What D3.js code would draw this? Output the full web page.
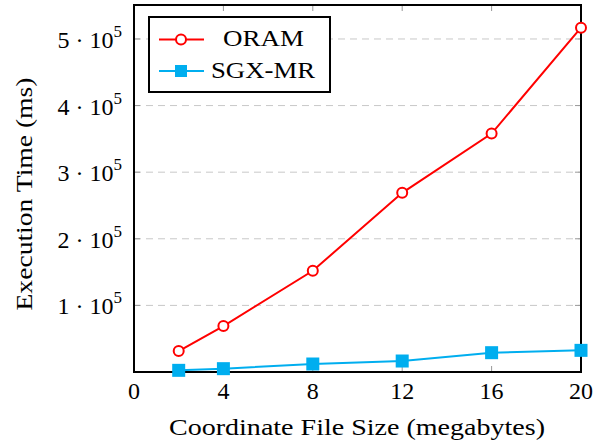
<!DOCTYPE html>
<html>
<head>
<meta charset="utf-8">
<script src="https://cdn.jsdelivr.net/npm/d3@7"></script>
<style>
  body { margin: 0; background: #fff; }
  text { font-family: "Liberation Serif", "DejaVu Serif", serif; fill: #000; }
</style>
</head>
<body>
<svg id="chart"></svg>
<script>
// 数据
const sizes = [2, 4, 8, 12, 16, 20];
const oramTimes = [31500, 69000, 152000, 269000, 358000, 517000];
const sgxTimes = [2500, 5000, 12000, 16500, 29000, 32500];
const xTicks = [0, 4, 8, 12, 16, 20];
const yTicks = [100000, 200000, 300000, 400000, 500000];

const width = 600, height = 445;
const margin = { left: 134, right: 19, top: 5, bottom: 73 };
const innerW = width - margin.left - margin.right;
const innerH = height - margin.top - margin.bottom;
const fs = 24;

const svg = d3.select("#chart").attr("width", width).attr("height", height);
const g = svg.append("g").attr("transform", `translate(${margin.left},${margin.top})`);

const x = d3.scaleLinear().domain([0, 20]).range([0, innerW]);
const y = d3.scaleLinear().domain([0, 551000]).range([innerH, 0]);

// 网格线
g.selectAll("line.grid")
  .data(yTicks)
  .enter()
  .append("line")
  .attr("x1", 0).attr("x2", innerW)
  .attr("y1", d => y(d)).attr("y2", d => y(d))
  .attr("stroke", "#c8c8c8")
  .attr("stroke-width", 1)
  .attr("stroke-dasharray", "7,5");

// 刻度线（内侧，上下左右）
const tickColor = "#999";
g.selectAll("line.xt")
  .data(xTicks)
  .enter()
  .append("line")
  .attr("x1", d => x(d)).attr("x2", d => x(d))
  .attr("y1", innerH).attr("y2", innerH - 6)
  .attr("stroke", tickColor);
g.selectAll("line.xt2")
  .data(xTicks)
  .enter()
  .append("line")
  .attr("x1", d => x(d)).attr("x2", d => x(d))
  .attr("y1", 0).attr("y2", 6)
  .attr("stroke", tickColor);
g.selectAll("line.yt")
  .data(yTicks)
  .enter()
  .append("line")
  .attr("x1", 0).attr("x2", 6)
  .attr("y1", d => y(d)).attr("y2", d => y(d))
  .attr("stroke", tickColor);
g.selectAll("line.yt2")
  .data(yTicks)
  .enter()
  .append("line")
  .attr("x1", innerW).attr("x2", innerW - 6)
  .attr("y1", d => y(d)).attr("y2", d => y(d))
  .attr("stroke", tickColor);

// 刻度标签
g.selectAll("text.xl")
  .data(xTicks)
  .enter()
  .append("text")
  .attr("x", d => x(d))
  .attr("y", innerH + 27)
  .attr("text-anchor", "middle")
  .attr("font-size", fs)
  .text(d => d);

const yl = g.selectAll("text.yl")
  .data(yTicks)
  .enter()
  .append("text")
  .attr("x", -12)
  .attr("y", d => y(d) + 9)
  .attr("text-anchor", "end")
  .attr("font-size", fs);
yl.append("tspan").text(d => (d / 100000) + " \u00B7 10");
yl.append("tspan").attr("font-size", 17).attr("dy", -11).text("5");

// 轴标题
svg.append("text")
  .attr("x", 357)
  .attr("y", 435)
  .attr("text-anchor", "middle")
  .attr("font-size", fs)
  .attr("textLength", 376)
  .attr("lengthAdjust", "spacingAndGlyphs")
  .text("Coordinate File Size (megabytes)");

svg.append("text")
  .attr("transform", "translate(32,194) rotate(-90)")
  .attr("text-anchor", "middle")
  .attr("font-size", fs)
  .attr("textLength", 233)
  .attr("lengthAdjust", "spacingAndGlyphs")
  .text("Execution Time (ms)");

// 线条
const line = d3.line().x(d => x(d[0])).y(d => y(d[1]));
const oram = sizes.map((s, i) => [s, oramTimes[i]]);
const sgx = sizes.map((s, i) => [s, sgxTimes[i]]);
const red = "#ff0000", blue = "#00aeef";

g.append("path").datum(sgx).attr("d", line)
  .attr("fill", "none").attr("stroke", blue).attr("stroke-width", 2);
g.append("path").datum(oram).attr("d", line)
  .attr("fill", "none").attr("stroke", red).attr("stroke-width", 2);

// 外框
g.append("rect")
  .attr("width", innerW).attr("height", innerH)
  .attr("fill", "none").attr("stroke", "#000").attr("stroke-width", 2);

// 标记
g.selectAll("circle.o")
  .data(oram)
  .enter()
  .append("circle")
  .attr("cx", d => x(d[0])).attr("cy", d => y(d[1]))
  .attr("r", 5)
  .attr("fill", "#fff").attr("stroke", red).attr("stroke-width", 2);

g.selectAll("rect.s")
  .data(sgx)
  .enter()
  .append("rect")
  .attr("x", d => x(d[0]) - 6.5).attr("y", d => y(d[1]) - 6.5)
  .attr("width", 13).attr("height", 13)
  .attr("fill", blue);

// 图例
const lg = svg.append("g").attr("transform", "translate(149,17)");
lg.append("rect")
  .attr("width", 181).attr("height", 75)
  .attr("fill", "#fff").attr("stroke", "#000").attr("stroke-width", 2);
lg.append("line").attr("x1", 10).attr("x2", 55).attr("y1", 22.5).attr("y2", 22.5)
  .attr("stroke", red).attr("stroke-width", 2);
lg.append("circle").attr("cx", 32).attr("cy", 22.5).attr("r", 5)
  .attr("fill", "#fff").attr("stroke", red).attr("stroke-width", 2);
lg.append("text").attr("x", 114.5).attr("y", 29).attr("text-anchor", "middle")
  .attr("font-size", fs).attr("textLength", 81).attr("lengthAdjust", "spacingAndGlyphs")
  .text("ORAM");
lg.append("line").attr("x1", 10).attr("x2", 55).attr("y1", 54).attr("y2", 54)
  .attr("stroke", blue).attr("stroke-width", 2);
lg.append("rect").attr("x", 26).attr("y", 48).attr("width", 12).attr("height", 12)
  .attr("fill", blue);
lg.append("text").attr("x", 114).attr("y", 61).attr("text-anchor", "middle")
  .attr("font-size", fs).attr("textLength", 104).attr("lengthAdjust", "spacingAndGlyphs")
  .text("SGX-MR");
</script>
</body>
</html>
